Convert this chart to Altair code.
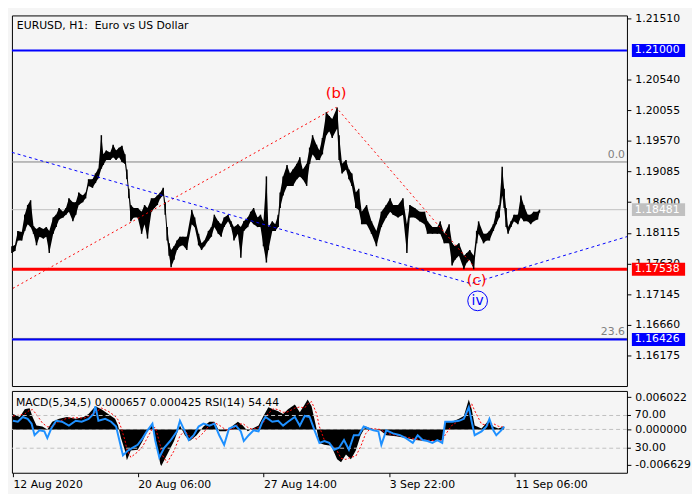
import altair as alt
import pandas as pd

# ---------------- data ----------------
# hourly bars sampled: (bar index, high, low)
price_bars = [
    (0, 1.17902, 1.17796), (3, 1.17917, 1.17826), (6, 1.18145, 1.17993), (10, 1.18129, 1.17993),
    (13, 1.18402, 1.18145), (16, 1.18554, 1.18251), (19, 1.18630, 1.18205), (22, 1.18220, 1.18099),
    (25, 1.18175, 1.17917), (28, 1.18205, 1.18054), (32, 1.18175, 1.18023), (35, 1.18205, 1.18054),
    (38, 1.18145, 1.17796), (42, 1.18357, 1.18099), (45, 1.18402, 1.18205), (48, 1.18508, 1.18326),
    (52, 1.18448, 1.18357), (55, 1.18508, 1.18402), (58, 1.18660, 1.18448), (62, 1.18599, 1.18296),
    (65, 1.18599, 1.18402), (68, 1.18751, 1.18554), (72, 1.18705, 1.18599), (75, 1.18751, 1.18660),
    (78, 1.18963, 1.18857), (82, 1.18963, 1.18827), (85, 1.19054, 1.18902), (88, 1.19130, 1.18978),
    (91, 1.19660, 1.19130), (93, 1.19357, 1.19190), (96, 1.19418, 1.19266), (100, 1.19387, 1.19266),
    (103, 1.19509, 1.19312), (106, 1.19418, 1.19266), (109, 1.19463, 1.19312), (112, 1.19493, 1.19236),
    (115, 1.19357, 1.19206), (117, 1.19115, 1.18963), (119, 1.18811, 1.18660), (121, 1.18554, 1.18296),
    (124, 1.18508, 1.18357), (128, 1.18508, 1.18357), (132, 1.18448, 1.18099), (135, 1.18554, 1.18251),
    (138, 1.18508, 1.18023), (142, 1.18660, 1.18448), (145, 1.18660, 1.18508), (148, 1.18705, 1.18554),
    (151, 1.18751, 1.18660), (154, 1.18827, 1.18705), (156, 1.18599, 1.18402), (158, 1.18205, 1.17993),
    (160, 1.17948, 1.17751), (162, 1.17842, 1.17569), (165, 1.17902, 1.17690), (168, 1.17993, 1.17842),
    (171, 1.18054, 1.17902), (174, 1.18054, 1.17917), (178, 1.18054, 1.17842), (183, 1.18478, 1.18251),
    (186, 1.18357, 1.18205), (190, 1.18099, 1.17917), (193, 1.17948, 1.17842), (196, 1.17993, 1.17902),
    (200, 1.18145, 1.17993), (203, 1.18205, 1.18054), (206, 1.18402, 1.18205), (210, 1.18296, 1.18099),
    (213, 1.18251, 1.18054), (216, 1.18357, 1.18205), (220, 1.18402, 1.18296), (223, 1.18296, 1.18205),
    (226, 1.18205, 1.17993), (230, 1.18251, 1.18099), (233, 1.18205, 1.17720), (236, 1.18296, 1.18145),
    (240, 1.18357, 1.18205), (243, 1.18448, 1.18296), (246, 1.18508, 1.18251), (250, 1.18357, 1.18205),
    (253, 1.18402, 1.18205), (256, 1.18296, 1.17902), (259, 1.19008, 1.17644), (261, 1.18205, 1.17842),
    (265, 1.18296, 1.18145), (268, 1.18251, 1.18145), (271, 1.18402, 1.18205), (273, 1.18751, 1.18508),
    (276, 1.19008, 1.18705), (280, 1.19190, 1.18857), (283, 1.19054, 1.18857), (286, 1.19115, 1.18857),
    (290, 1.19206, 1.18963), (293, 1.19312, 1.19008), (296, 1.19115, 1.18963), (300, 1.19206, 1.18857),
    (303, 1.19463, 1.19206), (306, 1.19660, 1.19357), (310, 1.19509, 1.19266), (313, 1.19418, 1.19266),
    (316, 1.19615, 1.19357), (320, 1.20024, 1.19660), (323, 1.19963, 1.19721), (326, 1.19918, 1.19615),
    (331, 1.20100, 1.19766), (333, 1.19660, 1.19266), (336, 1.19206, 1.19054), (340, 1.19266, 1.19115),
    (343, 1.19115, 1.18963), (346, 1.19054, 1.18857), (350, 1.18751, 1.18508), (353, 1.18811, 1.18478),
    (356, 1.18448, 1.18251), (361, 1.18554, 1.18251), (366, 1.18296, 1.18099), (371, 1.18145, 1.17902),
    (376, 1.18448, 1.18205), (381, 1.18554, 1.18357), (385, 1.18660, 1.18448), (388, 1.18554, 1.18402),
    (393, 1.18554, 1.18357), (398, 1.18660, 1.18402), (402, 1.18251, 1.17796), (405, 1.18554, 1.18357),
    (410, 1.18508, 1.18357), (415, 1.18448, 1.18296), (420, 1.18448, 1.18251), (423, 1.18296, 1.18099),
    (428, 1.18205, 1.18099), (433, 1.18205, 1.18099), (436, 1.18296, 1.18099), (440, 1.18099, 1.17948),
    (445, 1.18251, 1.17948), (448, 1.17948, 1.17599), (451, 1.17902, 1.17690), (455, 1.17948, 1.17751),
    (460, 1.17751, 1.17538), (463, 1.17796, 1.17644), (466, 1.17842, 1.17690), (470, 1.17751, 1.17538),
    (473, 1.18145, 1.17948), (475, 1.18296, 1.18099), (480, 1.18099, 1.17948), (483, 1.18099, 1.17993),
    (486, 1.18145, 1.17993), (490, 1.18251, 1.18145), (493, 1.18448, 1.18251), (496, 1.18554, 1.18357),
    (499, 1.19160, 1.18705), (501, 1.18811, 1.18508), (503, 1.18508, 1.18205), (505, 1.18205, 1.18099),
    (508, 1.18296, 1.18205), (511, 1.18402, 1.18296), (515, 1.18402, 1.18251), (518, 1.18705, 1.18357),
    (521, 1.18554, 1.18296), (525, 1.18402, 1.18296), (528, 1.18402, 1.18251), (531, 1.18448, 1.18296),
    (535, 1.18448, 1.18326), (537, 1.18481, 1.18433),
]

# MACD(5,34,5): (bar index, histogram, signal)
macd_rows = [
    (1, 0.00288, 0.00250), (8, 0.00234, 0.00270), (13, 0.00378, 0.00290), (18, 0.00396, 0.00360),
    (21, 0.00234, 0.00370), (25, 0.00072, 0.00280), (31, 0.00054, 0.00120), (36, 0.0, 0.00050),
    (41, 0.00144, 0.00060), (48, 0.00198, 0.00150), (56, 0.00234, 0.00210), (65, 0.00198, 0.00220),
    (73, 0.00234, 0.00210), (78, 0.00288, 0.00250), (85, 0.00432, 0.00320), (91, 0.00378, 0.00400),
    (98, 0.00288, 0.00340), (105, 0.00198, 0.00250), (108, 0.00072, 0.00180), (111, -0.00162, 0.00040),
    (115, -0.00396, -0.00200), (117, -0.00576, -0.00380), (121, -0.00396, -0.00520), (128, -0.00378, -0.00420),
    (133, -0.00216, -0.00320), (138, -0.00018, -0.00150), (143, 0.00108, 0.00020), (146, -0.00162, 0.00040),
    (151, -0.00648, -0.00300), (152, -0.00684, -0.00450), (158, -0.00468, -0.00620), (165, -0.00216, -0.00400),
    (171, 0.00072, -0.00120), (176, -0.00108, -0.00020), (181, -0.00216, -0.00130), (188, -0.00108, -0.00180),
    (195, 0.00054, -0.00060), (201, 0.00144, 0.00080), (206, 0.00144, 0.00130), (211, -0.00036, 0.00080),
    (218, -0.00036, -0.00010), (225, 0.00072, 0.00010), (230, 0.00144, 0.00090), (235, 0.00072, 0.00110),
    (240, -0.00036, 0.00040), (245, 0.00018, 0.00000), (251, 0.00072, 0.00040), (256, 0.00252, 0.00130),
    (261, 0.00414, 0.00300), (266, 0.00378, 0.00390), (271, 0.00342, 0.00370), (276, 0.00288, 0.00320),
    (281, 0.00378, 0.00330), (288, 0.00468, 0.00400), (293, 0.00324, 0.00420), (298, 0.00468, 0.00400),
    (301, 0.00558, 0.00480), (305, 0.00432, 0.00520), (310, 0.00018, 0.00300), (313, -0.00252, 0.00050),
    (318, -0.00288, -0.00200), (325, -0.00306, -0.00290), (331, -0.00558, -0.00400), (335, -0.00612, -0.00540),
    (340, -0.00468, -0.00560), (345, -0.00558, -0.00520), (350, -0.00396, -0.00500), (355, -0.00108, -0.00320),
    (360, 0.00054, -0.00080), (365, 0.00018, 0.00020), (375, -0.00018, 0.00000), (381, -0.00108, -0.00070),
    (391, -0.00126, -0.00110), (401, -0.00162, -0.00140), (411, -0.00198, -0.00180), (421, -0.00216, -0.00200),
    (431, -0.00216, -0.00210), (438, -0.00198, -0.00210), (441, 0.00144, -0.00100), (448, 0.00144, 0.00080),
    (455, 0.00198, 0.00160), (460, 0.00252, 0.00210), (465, 0.00558, 0.00350), (468, 0.00378, 0.00480),
    (471, 0.00072, 0.00350), (478, 0.00018, 0.00100), (485, 0.00162, 0.00080), (490, 0.00054, 0.00110),
    (495, 0.00018, 0.00060), (501, 0.00054, 0.00043),
]

# RSI(14): (bar index, value)
rsi_rows = [
    (1, 63.5), (6, 62.4), (11, 68.2), (16, 65.9), (20, 60.0), (23, 45.9), (28, 51.8), (33, 50.6),
    (36, 42.4), (40, 54.1), (45, 63.5), (51, 62.4), (58, 57.6), (65, 63.5), (71, 62.4), (78, 65.9),
    (83, 71.8), (85, 81.2), (88, 63.5), (95, 65.9), (101, 62.4), (106, 56.5), (110, 36.5), (113, 21.2),
    (118, 27.1), (123, 30.6), (128, 34.1), (133, 42.4), (138, 51.8), (143, 60.0), (146, 38.8), (150, 18.8),
    (155, 30.6), (161, 38.8), (168, 50.6), (171, 63.5), (176, 50.6), (180, 40.0), (185, 45.9), (190, 56.5),
    (195, 60.0), (201, 57.6), (206, 60.0), (211, 45.9), (216, 34.1), (221, 54.1), (228, 57.6), (233, 50.6),
    (236, 38.8), (241, 45.9), (246, 51.8), (251, 50.6), (255, 62.4), (258, 68.2), (265, 62.4), (271, 63.5),
    (276, 57.6), (281, 62.4), (288, 68.2), (293, 57.6), (298, 69.4), (303, 68.2), (308, 51.8), (313, 36.5),
    (318, 38.8), (323, 36.5), (328, 28.2), (333, 30.6), (338, 40.0), (343, 28.2), (348, 45.9), (353, 45.9),
    (358, 56.5), (363, 54.1), (368, 51.8), (373, 50.6), (376, 34.1), (381, 51.8), (388, 48.2), (395, 45.9),
    (401, 42.4), (408, 36.5), (413, 45.9), (418, 40.0), (423, 38.8), (428, 36.5), (433, 40.0), (438, 36.5),
    (441, 62.4), (448, 62.4), (455, 63.5), (460, 65.9), (465, 80.0), (468, 62.4), (471, 45.9), (478, 50.6),
    (483, 56.5), (486, 65.9), (490, 51.8), (493, 45.9), (498, 51.8), (501, 56.5),
]

red_wave = [(1, 1.17236), (330, 1.20100), (471, 1.17569)]
blue_wave = [(0, 1.19388), (467, 1.17311), (626, 1.18054)]

wave_label_idx = [330, 473]
wave_label_price = [1.20327, 1.17372]
wave_label_text = ["(b)", "(c)"]
iv_idx = [474]
iv_price = [1.17038]

level_prices = [1.21000, 1.19236, 1.18481, 1.17538, 1.16443, 1.16426]
level_colors = ["#0000ff", "#808080", "#c0c0c0", "#ff0000", "#808080", "#0000ff"]
level_widths = [2, 1, 1, 3, 1, 2]

fib_idx = [624, 624]
fib_price = [1.19236, 1.16443]
fib_text = ["0.0", "23.6"]

box_prices = [1.21000, 1.18481, 1.17538, 1.16426]
box_texts = ["1.21000", "1.18481", "1.17538", "1.16426"]
box_colors = ["#0000ff", "#c0c0c0", "#ff0000", "#0000ff"]

price_ticks = [1.21510, 1.20540, 1.20055, 1.19570, 1.19085, 1.18600,
               1.18115, 1.17630, 1.17145, 1.16660, 1.16175]
x_tick_pos = [1, 128, 256, 384, 512]
x_tick_labels = ["12 Aug 2020", "20 Aug 06:00", "27 Aug 14:00", "3 Sep 22:00", "11 Sep 06:00"]
macd_ticks = [0.006022, 0.0, -0.006629]
rsi_levels = [70, 30]
rsi_level_labels = ["70.00", "30.00"]

title_text = "EURUSD, H1:\u00a0 Euro vs US Dollar"
ind_text = "MACD(5,34,5) 0.000657 0.000425 RSI(14) 54.44"

# ---------------- layout ----------------
W, H1, H2 = 624, 376, 83
X_DOMAIN = [0, 626]
P_DOMAIN = [1.15690, 1.21555]
M_DOMAIN = [-0.0081, 0.0072]
R_DOMAIN = [0, 100]
FONT = "DejaVu Sans"
BG = "#f5f5f5"

xs = alt.Scale(domain=X_DOMAIN, nice=False, zero=False)
ps = alt.Scale(domain=P_DOMAIN, nice=False, zero=False)
ms = alt.Scale(domain=M_DOMAIN, nice=False, zero=False)
rs = alt.Scale(domain=R_DOMAIN, nice=False, zero=False)

price_axis = alt.Axis(orient="right", values=price_ticks, format=".5f", tickSize=4,
                      labelPadding=4, title=None, domain=False, grid=False,
                      labelOverlap=False, labelFlush=False)
label_expr = " : ".join(f"datum.value == {p} ? '{l}'" for p, l in zip(x_tick_pos, x_tick_labels)) + " : ''"
x_axis = alt.Axis(orient="bottom", values=x_tick_pos, labelExpr=label_expr, labelAlign="left",
                  labelBaseline="top", tickSize=4, labelPadding=2, title=None, domain=False,
                  grid=False, labelOverlap=False, labelFlush=False)
macd_axis = alt.Axis(orient="right", values=macd_ticks, tickSize=4, labelPadding=4, title=None,
                     domain=False, grid=False, labelOverlap=False, labelFlush=False,
                     labelExpr="datum.value < 0 ? '-' + format(-datum.value, '.6f') : format(datum.value, '.6f')")


def XM(f):
    return alt.X(f, type="quantitative", scale=xs, axis=None)


def YP(f):
    return alt.Y(f, type="quantitative", scale=ps, axis=price_axis)


def XI(f):
    return alt.X(f, type="quantitative", scale=xs, axis=x_axis)


def YM(f):
    return alt.Y(f, type="quantitative", scale=ms, axis=macd_axis)


def YR(f):
    return alt.Y(f, type="quantitative", scale=rs, axis=None)


# ---------------- main panel ----------------
price_df = pd.DataFrame(price_bars, columns=["idx", "high", "low"])
levels_df = pd.DataFrame({"price": level_prices, "color": level_colors, "w": level_widths})
red_df = pd.DataFrame(red_wave, columns=["idx", "price"])
blue_df = pd.DataFrame(blue_wave, columns=["idx", "price"])
wl_df = pd.DataFrame({"idx": wave_label_idx, "price": wave_label_price, "t": wave_label_text})
iv_df = pd.DataFrame({"idx": iv_idx, "price": iv_price, "t": ["iv"]})
fib_df = pd.DataFrame({"idx": fib_idx, "price": fib_price, "t": fib_text})
box_df = pd.DataFrame({"price": box_prices, "t": box_texts, "color": box_colors})

levels = alt.Chart(levels_df).mark_rule().encode(
    y=YP("price"),
    color=alt.Color("color:N", scale=None),
    strokeWidth=alt.StrokeWidth("w:Q", scale=None),
)
band = alt.Chart(price_df).mark_area(color="black", orient="vertical", opacity=1).encode(
    x=XM("idx"), y=YP("low"), y2="high")
bars = alt.Chart(price_df).mark_rule(color="black", strokeWidth=1.5).encode(
    x=XM("idx"), y=YP("low"), y2="high")
red_line = alt.Chart(red_df).mark_line(color="#ff0000", strokeDash=[2, 3], strokeWidth=1).encode(
    x=XM("idx"), y=YP("price"))
blue_line = alt.Chart(blue_df).mark_line(color="#0000ff", strokeDash=[3, 3], strokeWidth=1).encode(
    x=XM("idx"), y=YP("price"))
wave_txt = alt.Chart(wl_df).mark_text(color="#ff0000", font=FONT, fontSize=15, baseline="middle").encode(
    x=XM("idx"), y=YP("price"), text="t:N")
iv_circle = alt.Chart(iv_df).mark_point(shape="circle", size=400, filled=False, color="#0000ff",
                                        strokeWidth=1, opacity=1).encode(x=XM("idx"), y=YP("price"))
iv_txt = alt.Chart(iv_df).mark_text(color="#0000ff", font=FONT, fontSize=14, baseline="middle").encode(
    x=XM("idx"), y=YP("price"), text="t:N")
fib_txt = alt.Chart(fib_df).mark_text(color="#808080", font=FONT, fontSize=11, align="right",
                                      baseline="bottom", dy=-2).encode(
    x=XM("idx"), y=YP("price"), text="t:N")
title = alt.Chart(pd.DataFrame({"t": [title_text]})).mark_text(
    font=FONT, fontSize=11, align="left", baseline="middle", color="black").encode(
    x=alt.value(5), y=alt.value(11), text="t:N")
boxes = alt.Chart(box_df).mark_rule(strokeWidth=13).encode(
    x=alt.value(W + 5), x2=alt.value(W + 59), y=YP("price"),
    color=alt.Color("color:N", scale=None))
box_txt = alt.Chart(box_df).mark_text(font=FONT, fontSize=11, align="left", baseline="middle",
                                      color="white").encode(
    x=alt.value(W + 8), y=YP("price"), text="t:N")

main = alt.layer(levels, band, bars, red_line, blue_line, wave_txt, iv_circle, iv_txt,
                 fib_txt, title, boxes, box_txt).properties(width=W, height=H1)

# ---------------- indicator panel ----------------
macd_df = pd.DataFrame(macd_rows, columns=["idx", "hist", "signal"])
rsi_df = pd.DataFrame(rsi_rows, columns=["idx", "rsi"])
rlev_df = pd.DataFrame({"lvl": rsi_levels, "t": rsi_level_labels})

zero_rule = alt.Chart(pd.DataFrame({"m": [0.0]})).mark_rule(
    color="#c0c0c0", strokeDash=[4, 3], strokeWidth=1).encode(y=YM("m"))
hist = alt.Chart(macd_df).mark_area(color="black", orient="vertical", opacity=1).encode(
    x=XI("idx"), y=YM("hist"), y2=alt.datum(0))
signal = alt.Chart(macd_df).mark_line(color="#ff0000", strokeDash=[2, 2], strokeWidth=1).encode(
    x=XI("idx"), y=YM("signal"))
macd_group = alt.layer(zero_rule, hist, signal)

rsi_rules = alt.Chart(rlev_df).mark_rule(color="#c0c0c0", strokeDash=[4, 3], strokeWidth=1).encode(
    y=YR("lvl"))
rsi_line = alt.Chart(rsi_df).mark_line(color="#1e90ff", strokeWidth=2).encode(
    x=XI("idx"), y=YR("rsi"))
rsi_ticks = alt.Chart(rlev_df).mark_rule(color="black", strokeWidth=1).encode(
    x=alt.value(W), x2=alt.value(W + 4), y=YR("lvl"))
rsi_lbl = alt.Chart(rlev_df).mark_text(font=FONT, fontSize=11, align="left", baseline="middle",
                                       color="black").encode(
    x=alt.value(W + 8), y=YR("lvl"), text="t:N")
ind_title = alt.Chart(pd.DataFrame({"t": [ind_text]})).mark_text(
    font=FONT, fontSize=11, align="left", baseline="middle", color="black").encode(
    x=alt.value(4), y=alt.value(12), text="t:N")
rsi_group = alt.layer(rsi_rules, rsi_line, rsi_ticks, rsi_lbl, ind_title)

ind = alt.layer(macd_group, rsi_group).resolve_scale(y="independent").properties(width=W, height=H2)

chart = alt.vconcat(main, ind, spacing=3).properties(
    padding={"left": 0, "top": 0, "right": 0, "bottom": 0}
).configure(background=BG).configure_view(
    stroke="black", strokeWidth=1, fill=BG
).configure_axis(
    labelFont=FONT, labelFontSize=11, labelColor="black", tickColor="black", tickWidth=1
)

chart.save("out.html", embed_options={"renderer": "svg", "actions": False})
